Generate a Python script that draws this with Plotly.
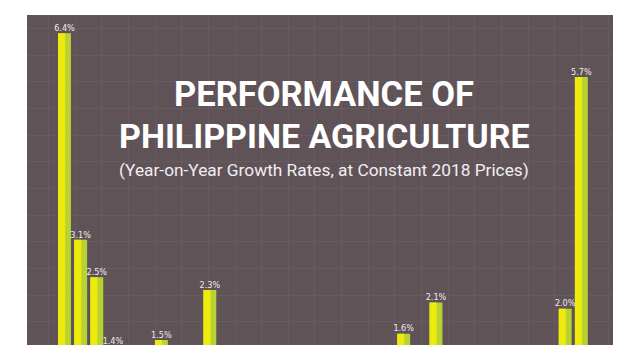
import plotly.graph_objects as go

# Data (period index along the x axis, growth rate in %)
periods = [0, 1, 2, 3, 6, 9, 21, 23, 31, 32]
growth = [6.4, 3.1, 2.5, 1.4, 1.5, 2.3, 1.6, 2.1, 2.0, 5.7]
labels = [f"{v:.1f}%" for v in growth]

title_1 = "PERFORMANCE OF"
title_2 = "PHILIPPINE AGRICULTURE"
subtitle = "(Year-on-Year Growth Rates, at Constant 2018 Prices)"

BG = "#5f5358"
GRID = "#675b60"
YELLOW = "#eeea0c"
GREEN = "#b8d232"

fig = go.Figure()
fig.add_trace(go.Bar(x=periods, y=growth, width=0.8, offset=-0.4,
                     marker=dict(color=GREEN, line=dict(width=0)),
                     hoverinfo="skip", showlegend=False))
fig.add_trace(go.Bar(x=periods, y=growth, width=0.44, offset=-0.4,
                     marker=dict(color=YELLOW, line=dict(width=0)),
                     hoverinfo="skip", showlegend=False))
fig.add_trace(go.Scatter(x=periods, y=growth, mode="text", text=labels,
                         textposition="top center",
                         textfont=dict(family="Liberation Sans Narrow, DejaVu Sans Condensed",
                                       size=9, color="#eeeaec"),
                         hoverinfo="skip", showlegend=False))

fig.update_layout(
    width=640, height=360,
    margin=dict(l=19, r=35, t=7, b=23),
    paper_bgcolor="white",
    plot_bgcolor=BG,
    barmode="overlay",
    xaxis=dict(range=[-2.32, 33.96], showticklabels=False, ticks="",
               showgrid=True, gridcolor=GRID, gridwidth=1,
               tick0=12.21, dtick=1.65, zeroline=False, fixedrange=True),
    yaxis=dict(range=[1.42, 6.69], showticklabels=False, ticks="",
               showgrid=True, gridcolor=GRID, gridwidth=1,
               tick0=3.066, dtick=0.426, zeroline=False, fixedrange=True),
    annotations=[
        dict(text=f"<b>{title_1}</b>", x=0.507, y=0.761, xref="paper", yref="paper",
             showarrow=False, font=dict(family="Roboto", size=34.5, color="white"),
             xanchor="center", yanchor="middle"),
        dict(text=f"<b>{title_2}</b>", x=0.507, y=0.633, xref="paper", yref="paper",
             showarrow=False, font=dict(family="Roboto", size=34, color="white"),
             xanchor="center", yanchor="middle"),
        dict(text=subtitle, x=0.507, y=0.530, xref="paper", yref="paper",
             showarrow=False, font=dict(family="Roboto", size=17.3, color="#f2eef0"),
             xanchor="center", yanchor="middle"),
    ],
)

fig.write_html("out.html")
